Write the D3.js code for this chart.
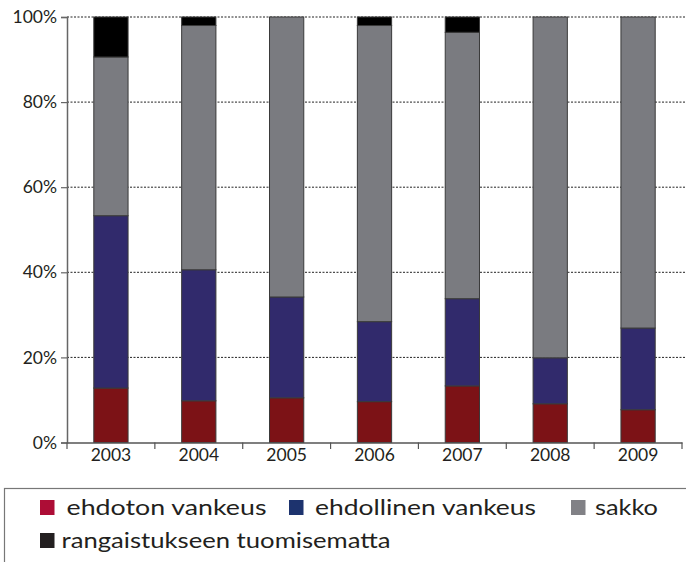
<!DOCTYPE html>
<html>
<head>
<meta charset="utf-8">
<script src="https://cdn.jsdelivr.net/npm/d3@7"></script>
<style>
  body { margin: 0; background: #fff; }
  svg { display: block; }
</style>
</head>
<body>
<div id="chart"></div>
<script>
const years = ["2003", "2004", "2005", "2006", "2007", "2008", "2009"];
const seriesNames = ["ehdoton vankeus", "ehdollinen vankeus", "sakko", "rangaistukseen tuomisematta"];
const ehdoton = [12.8, 9.8, 10.5, 9.6, 13.3, 9.1, 7.7];
const ehdollinen = [40.5, 30.8, 23.7, 18.8, 20.5, 10.8, 19.2];
const sakko = [37.3, 57.4, 65.8, 69.6, 62.6, 80.1, 73.1];
const tuomisematta = [9.4, 2.0, 0, 2.0, 3.6, 0, 0];
const yTicks = [0, 20, 40, 60, 80, 100];

const barColors = ["#7c1216", "#312a6c", "#7a7b80", "#000000"];
const legendColors = ["#ad0d36", "#1d336e", "#818186", "#231f20"];

const width = 686, height = 562;

const svg = d3.select("#chart").append("svg")
    .attr("width", width)
    .attr("height", height);

const table = years.map((y, i) => ({
  year: y,
  [seriesNames[0]]: ehdoton[i],
  [seriesNames[1]]: ehdollinen[i],
  [seriesNames[2]]: sakko[i],
  [seriesNames[3]]: tuomisematta[i]
}));
const stacked = d3.stack().keys(seriesNames)(table);

const x = d3.scaleBand()
    .domain(years)
    .range([67, 682])
    .paddingInner(0.61)
    .paddingOuter(0.305);

const y = d3.scaleLinear()
    .domain([0, 100])
    .range([442.5, 17]);

const axisFont = "Lato, 'Noto Sans', sans-serif";

// dashed grid
svg.append("g")
  .selectAll("line")
  .data(yTicks.filter(d => d > 0))
  .enter().append("line")
    .attr("x1", 67).attr("x2", 686)
    .attr("y1", d => y(d)).attr("y2", d => y(d))
    .attr("stroke", "#222")
    .attr("stroke-width", 1)
    .attr("stroke-dasharray", "2,1.5");

// bars
svg.append("g")
  .selectAll("g")
  .data(stacked)
  .enter().append("g")
    .attr("fill", (d, i) => barColors[i])
  .selectAll("rect")
  .data(d => d)
  .enter().append("rect")
    .filter(d => d[1] - d[0] > 0)
    .attr("x", d => x(d.data.year))
    .attr("width", x.bandwidth())
    .attr("y", d => y(d[1]))
    .attr("height", d => y(d[0]) - y(d[1]))
    .attr("stroke", "#3a3a3a")
    .attr("stroke-width", 1);

// y axis
const yAxis = svg.append("g")
    .attr("transform", "translate(67,0)")
    .call(d3.axisLeft(y).tickValues(yTicks).tickFormat(d => d + "%").tickSize(6).tickPadding(4));
yAxis.select(".domain").attr("stroke", "#666").attr("stroke-width", 1.5);
yAxis.selectAll(".tick line").attr("stroke", "#666").attr("stroke-width", 1.2);
yAxis.selectAll("text")
    .attr("font-family", axisFont)
    .attr("font-size", 17.5)
    .attr("fill", "#231f20");

// x axis
const xAxis = svg.append("g")
    .attr("transform", "translate(0,442.5)")
    .call(d3.axisBottom(x).tickSize(0).tickPadding(6));
xAxis.select(".domain").attr("stroke", "#555").attr("stroke-width", 1.5);
xAxis.selectAll("text")
    .attr("font-family", axisFont)
    .attr("font-size", 17.5)
    .attr("fill", "#231f20");

// category boundary ticks
svg.append("g")
  .selectAll("line")
  .data(d3.range(years.length + 1))
  .enter().append("line")
    .attr("x1", i => 67 + i * (615 / years.length))
    .attr("x2", i => 67 + i * (615 / years.length))
    .attr("y1", 442.5).attr("y2", 449)
    .attr("stroke", "#555")
    .attr("stroke-width", 1.2);

// legend box
svg.append("rect")
    .attr("x", 4.5).attr("y", 488.5)
    .attr("width", 700).attr("height", 100)
    .attr("fill", "none")
    .attr("stroke", "#777")
    .attr("stroke-width", 1.2);

const legendPos = [
  { sx: 40, tx: 66.5, y: 500, w: 200 },
  { sx: 289, tx: 315, y: 500, w: 221 },
  { sx: 571, tx: 595, y: 500, w: 63 },
  { sx: 40, tx: 61.5, y: 533, w: 329 }
];

const legend = svg.append("g")
  .selectAll("g")
  .data(seriesNames)
  .enter().append("g");

legend.append("rect")
    .attr("x", (d, i) => legendPos[i].sx)
    .attr("y", (d, i) => legendPos[i].y)
    .attr("width", 14.5).attr("height", 15)
    .attr("fill", (d, i) => legendColors[i]);

legend.append("text")
    .attr("x", (d, i) => legendPos[i].tx)
    .attr("y", (d, i) => legendPos[i].y + 15)
    .attr("font-family", axisFont)
    .attr("font-size", 22)
    .attr("fill", "#231f20")
    .attr("textLength", (d, i) => legendPos[i].w)
    .attr("lengthAdjust", "spacingAndGlyphs")
    .text(d => d);
</script>
</body>
</html>
